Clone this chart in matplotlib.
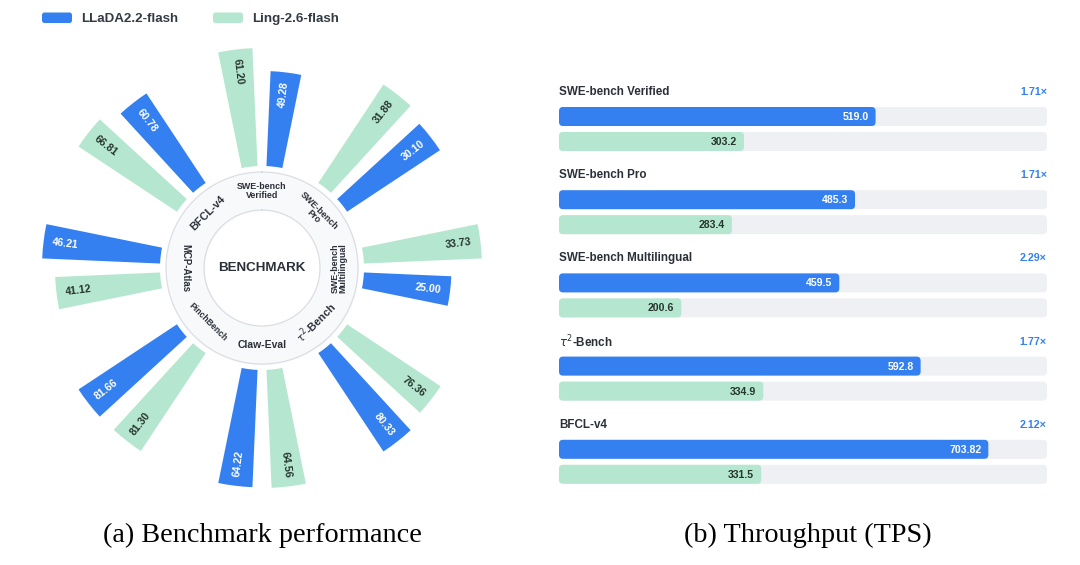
import numpy as np
import matplotlib.pyplot as plt
from matplotlib.patches import FancyBboxPatch

BLUE = '#3580F0'
GREEN = '#B5E6D0'
TRACK = '#EFF0F4'
DARK = '#2B2F38'
GREEN_TXT = '#26352E'

# (a) benchmark scores, clockwise from the top
benchmarks = ['SWE-bench\nVerified', 'SWE-bench\nPro', 'SWE-bench\nMultilingual', r'$\tau^2$-Bench',
              'Claw-Eval', 'PinchBench', 'MCP-Atlas', 'BFCL-v4']
bench_sizes = [6.4, 6.4, 6.4, 7.8, 7.5, 6.2, 6.9, 7.8]
llada_scores = [49.28, 30.10, 25.00, 80.33, 64.22, 81.66, 46.21, 60.78]
ling_scores = [61.20, 31.88, 33.73, 76.36, 64.56, 81.30, 41.12, 66.81]

# (b) throughput
tps_tasks = ['SWE-bench Verified', 'SWE-bench Pro', 'SWE-bench Multilingual', r'$\tau^2$-Bench', 'BFCL-v4']
llada_tps = [519.0, 485.3, 459.5, 592.8, 703.82]
ling_tps = [303.2, 283.4, 200.6, 334.9, 331.5]

plt.rcParams['font.family'] = ['Liberation Sans', 'DejaVu Sans']

fig = plt.figure(figsize=(10.8, 5.65), dpi=100)
W, H = 1080, 565

# ---------- radial chart ----------
cx, cy, R = 262, 268, 245
ax = fig.add_axes([(cx - R) / W, (H - cy - R) / H, 2 * R / W, 2 * R / H], projection='polar')
ax.set_theta_zero_location('N')
ax.set_theta_direction(-1)
ax.set_ylim(0, R)
ax.axis('off')

r_in, r_ring, r0, span = 58, 96, 102, 118
t = np.linspace(0, 2 * np.pi, 500)
ax.fill_between(t, r_in, r_ring, color='#F8F9FB', zorder=1)
ax.plot(t, np.full_like(t, r_ring), color='#DCDEE4', lw=0.9, zorder=2)
ax.plot(t, np.full_like(t, r_in), color='#DCDEE4', lw=0.9, zorder=2)
ax.text(0, 0, 'BENCHMARK', ha='center', va='center', fontsize=9.6, fontweight='bold', color=DARK)

llada = np.array(llada_scores)
ling = np.array(ling_scores)
peak = np.maximum(llada, ling)
base_deg = np.arange(len(benchmarks)) * 45.0
off, width = 7.0, 9.0

h_ling = span * ling / peak
h_llada = span * llada / peak
th_ling = np.deg2rad(base_deg - off)
th_llada = np.deg2rad(base_deg + off)
ax.bar(th_ling, h_ling, width=np.deg2rad(width), bottom=r0, color=GREEN, zorder=3)
ax.bar(th_llada, h_llada, width=np.deg2rad(width), bottom=r0, color=BLUE, zorder=3)


def radial_rot(d):
    a = 90 - d
    a = (a + 180) % 360 - 180
    if a > 90:
        a -= 180
    elif a < -90:
        a += 180
    return a


for th, h, v, c in [(a, b, s, GREEN_TXT) for a, b, s in zip(th_ling, h_ling, ling_scores)] + \
                   [(a, b, s, 'white') for a, b, s in zip(th_llada, h_llada, llada_scores)]:
    ax.text(th, r0 + h - 22, f'{v:.2f}', ha='center', va='center', rotation=radial_rot(np.rad2deg(th)),
            rotation_mode='anchor', fontsize=7.6, fontweight='bold', color=c, zorder=4)

for d, name, fs in zip(base_deg, benchmarks, bench_sizes):
    rot = -d if (d < 90 or d > 270) else 180 - d
    ax.text(np.deg2rad(d), 77, name, ha='center', va='center', rotation=rot, rotation_mode='anchor',
            fontsize=fs, fontweight='bold', color=DARK, linespacing=0.9, zorder=4)

# ---------- throughput bars ----------
x0, x1, y0, y1 = 559, 1047, 75, 490
ax2 = fig.add_axes([x0 / W, (H - y1) / H, (x1 - x0) / W, (y1 - y0) / H])
xmax = 800
ax2.set_xlim(0, xmax)
ax2.set_ylim(y1, y0)
ax2.axis('off')
pxu = (x1 - x0) / xmax
rs = 4 / pxu


def rbar(ax_, x, yc, w, color):
    ax_.add_patch(FancyBboxPatch((0, yc - 9.5), w, 19, boxstyle=f'round,pad=0,rounding_size={rs}',
                                 mutation_aspect=4 / rs, facecolor=color, edgecolor='none'))


for i, (task, a, b) in enumerate(zip(tps_tasks, llada_tps, ling_tps)):
    yl = 92 + i * 83.2
    ax2.text(0, yl, task, ha='left', va='center', fontsize=8.4, fontweight='bold', color=DARK)
    ax2.text(xmax, yl, f'{a / b:.2f}×', ha='right', va='center', fontsize=7.7, fontweight='bold', color=BLUE)
    for yc, v, col, tc in [(yl + 24.5, a, BLUE, 'white'), (yl + 49.5, b, GREEN, GREEN_TXT)]:
        rbar(ax2, 0, yc, xmax, TRACK)
        rbar(ax2, 0, yc, v, col)
        ax2.text(v - 7 / pxu, yc + 0.5, f'{v}', ha='right', va='center', fontsize=7.6,
                 fontweight='bold', color=tc)

# ---------- legend and captions ----------
ov = fig.add_axes([0, 0, 1, 1], zorder=-1)
ov.set_xlim(0, W)
ov.set_ylim(H, 0)
ov.axis('off')
for xr, col, lab in [(42, BLUE, 'LLaDA2.2-flash'), (213, GREEN, 'Ling-2.6-flash')]:
    ov.add_patch(FancyBboxPatch((xr, 12.5), 30, 10.5, boxstyle='round,pad=0,rounding_size=2.5',
                                facecolor=col, edgecolor='none'))
    ov.text(xr + 39, 19, lab, ha='left', va='center', fontsize=9.6, fontweight='bold', color='#333A44')

ov.text(262, 535, '(a) Benchmark performance', ha='center', va='center', fontsize=20.3,
        family='Liberation Serif', color='black')
ov.text(808, 535, '(b) Throughput (TPS)', ha='center', va='center', fontsize=20.3,
        family='Liberation Serif', color='black')

fig.savefig('out.png', dpi=100, facecolor='white')
